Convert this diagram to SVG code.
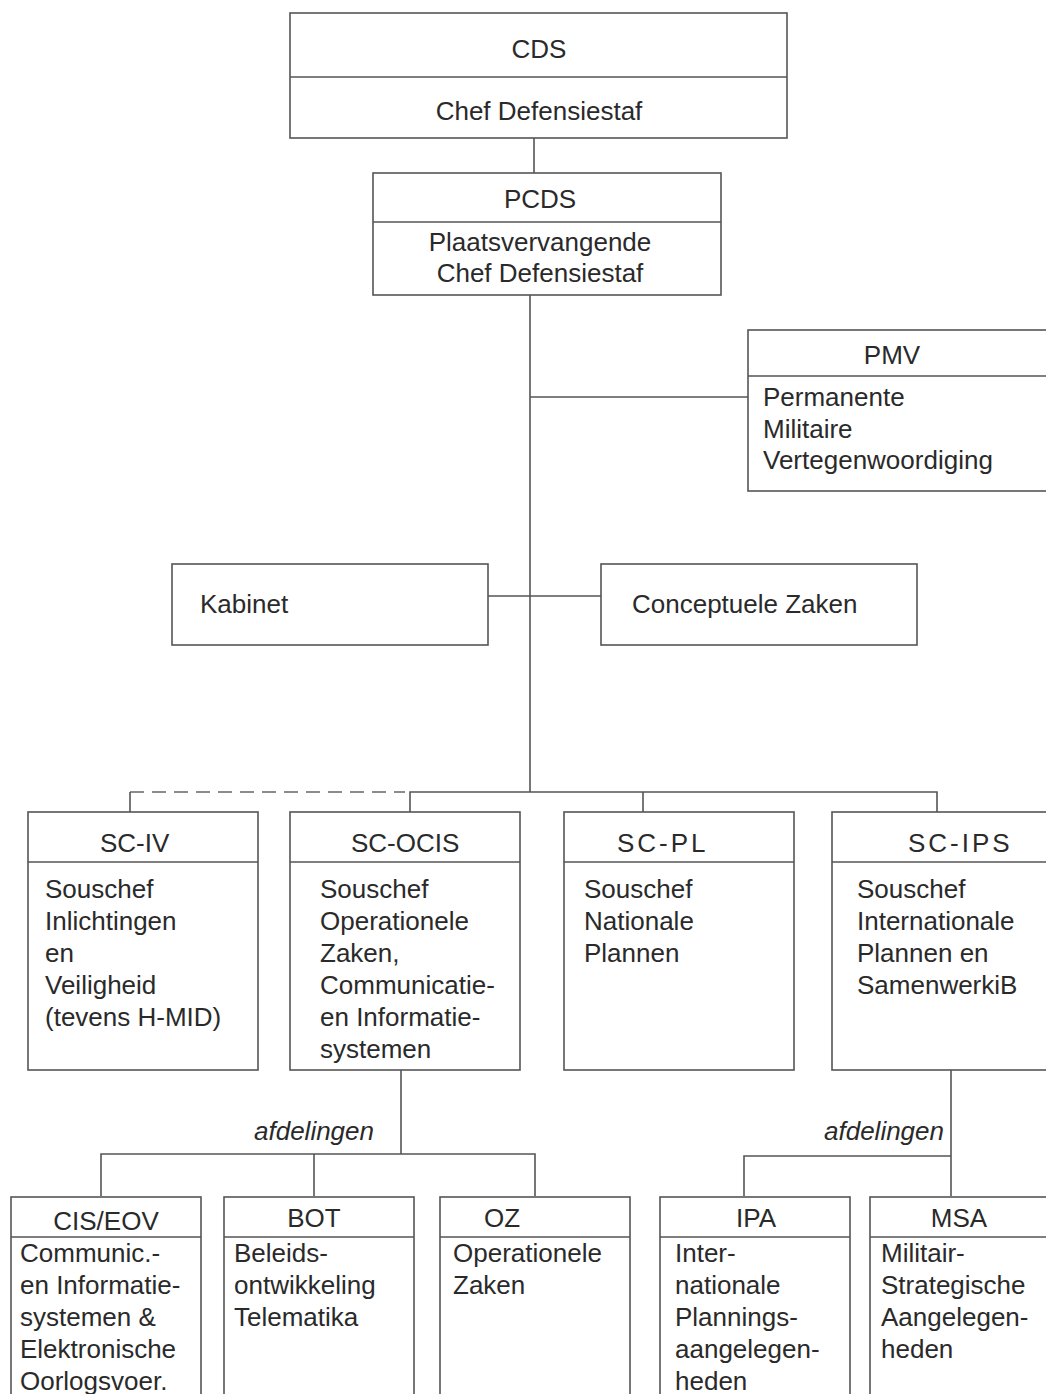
<svg xmlns="http://www.w3.org/2000/svg" width="1046" height="1394" viewBox="0 0 1046 1394">
<style>
.box{fill:#fff;stroke:#555;stroke-width:1.6}
.ln{stroke:#555;stroke-width:1.6;fill:none}
.dash{stroke:#666;stroke-width:1.6;fill:none;stroke-dasharray:14 8}
text{font-family:"Liberation Sans",Arial,sans-serif;font-size:26px;fill:#2a2a2a}
.c{text-anchor:middle}
.sp{letter-spacing:3px}
.it{font-style:italic;text-anchor:end}
</style>
<rect width="1046" height="1394" fill="#fff"/>
<g id="connectors">
<line class="ln" x1="534" y1="138" x2="534" y2="173"/>
<line class="ln" x1="530" y1="295" x2="530" y2="792"/>
<line class="ln" x1="530" y1="397" x2="748" y2="397"/>
<line class="ln" x1="488" y1="596" x2="601" y2="596"/>
<path class="dash" d="M130 792 H405"/>
<line class="ln" x1="130" y1="792" x2="130" y2="812"/>
<path class="ln" d="M410 812 V792 H937 V812"/>
<line class="ln" x1="643" y1="792" x2="643" y2="812"/>
<line class="ln" x1="401" y1="1070" x2="401" y2="1154"/>
<path class="ln" d="M101 1196 V1154 H535 V1196"/>
<line class="ln" x1="314" y1="1154" x2="314" y2="1196"/>
<line class="ln" x1="951" y1="1070" x2="951" y2="1196"/>
<path class="ln" d="M744 1196 V1156 H951"/>
<text class="it" x="374" y="1140">afdelingen</text>
<text class="it" x="944" y="1140">afdelingen</text>
</g>
<g id="cds">
<rect class="box" x="290" y="13" width="497" height="125"/>
<line class="ln" x1="290" y1="77" x2="787" y2="77"/>
<text class="c" x="539" y="58">CDS</text>
<text class="c" x="539" y="120">Chef Defensiestaf</text>
</g>
<g id="pcds">
<rect class="box" x="373" y="173" width="348" height="122"/>
<line class="ln" x1="373" y1="222" x2="721" y2="222"/>
<text class="c" x="540" y="208">PCDS</text>
<text class="c" x="540" y="251">Plaatsvervangende</text>
<text class="c" x="540" y="282">Chef Defensiestaf</text>
</g>
<g id="pmv">
<rect class="box" x="748" y="330" width="310" height="161"/>
<line class="ln" x1="748" y1="376" x2="1058" y2="376"/>
<text class="c" x="892" y="364">PMV</text>
<text x="763" y="406">Permanente</text>
<text x="763" y="438">Militaire</text>
<text x="763" y="469">Vertegenwoordiging</text>
</g>
<g id="kabinet">
<rect class="box" x="172" y="564" width="316" height="81"/>
<text x="200" y="613">Kabinet</text>
</g>
<g id="conceptuele">
<rect class="box" x="601" y="564" width="316" height="81"/>
<text x="632" y="613">Conceptuele Zaken</text>
</g>
<g id="sc-iv">
<rect class="box" x="28" y="812" width="230" height="258"/>
<line class="ln" x1="28" y1="862" x2="258" y2="862"/>
<text x="100" y="852">SC-IV</text>
<text x="45" y="898">Souschef</text>
<text x="45" y="930">Inlichtingen</text>
<text x="45" y="962">en</text>
<text x="45" y="994">Veiligheid</text>
<text x="45" y="1026">(tevens H-MID)</text>
</g>
<g id="sc-ocis">
<rect class="box" x="290" y="812" width="230" height="258"/>
<line class="ln" x1="290" y1="862" x2="520" y2="862"/>
<text x="351" y="852">SC-OCIS</text>
<text x="320" y="898">Souschef</text>
<text x="320" y="930">Operationele</text>
<text x="320" y="962">Zaken,</text>
<text x="320" y="994">Communicatie-</text>
<text x="320" y="1026">en Informatie-</text>
<text x="320" y="1058">systemen</text>
</g>
<g id="sc-pl">
<rect class="box" x="564" y="812" width="230" height="258"/>
<line class="ln" x1="564" y1="862" x2="794" y2="862"/>
<text class="sp" x="617" y="852">SC-PL</text>
<text x="584" y="898">Souschef</text>
<text x="584" y="930">Nationale</text>
<text x="584" y="962">Plannen</text>
</g>
<g id="sc-ips">
<rect class="box" x="832" y="812" width="230" height="258"/>
<line class="ln" x1="832" y1="862" x2="1062" y2="862"/>
<text class="sp" x="908" y="852">SC-IPS</text>
<text x="857" y="898">Souschef</text>
<text x="857" y="930">Internationale</text>
<text x="857" y="962">Plannen en</text>
<text x="857" y="994">SamenwerkiB</text>
</g>
<g id="cis-eov">
<rect class="box" x="11" y="1197" width="190" height="210"/>
<line class="ln" x1="11" y1="1237" x2="201" y2="1237"/>
<text class="c" x="106" y="1230">CIS/EOV</text>
<text x="20" y="1262">Communic.-</text>
<text x="20" y="1294">en Informatie-</text>
<text x="20" y="1326">systemen &amp;</text>
<text x="20" y="1358">Elektronische</text>
<text x="20" y="1390">Oorlogsvoer.</text>
</g>
<g id="bot">
<rect class="box" x="224" y="1197" width="190" height="210"/>
<line class="ln" x1="224" y1="1237" x2="414" y2="1237"/>
<text class="c" x="314" y="1227">BOT</text>
<text x="234" y="1262">Beleids-</text>
<text x="234" y="1294">ontwikkeling</text>
<text x="234" y="1326">Telematika</text>
</g>
<g id="oz">
<rect class="box" x="440" y="1197" width="190" height="210"/>
<line class="ln" x1="440" y1="1237" x2="630" y2="1237"/>
<text class="c" x="502" y="1227">OZ</text>
<text x="453" y="1262">Operationele</text>
<text x="453" y="1294">Zaken</text>
</g>
<g id="ipa">
<rect class="box" x="660" y="1197" width="190" height="210"/>
<line class="ln" x1="660" y1="1237" x2="850" y2="1237"/>
<text class="c" x="756" y="1227">IPA</text>
<text x="675" y="1262">Inter-</text>
<text x="675" y="1294">nationale</text>
<text x="675" y="1326">Plannings-</text>
<text x="675" y="1358">aangelegen-</text>
<text x="675" y="1390">heden</text>
</g>
<g id="msa">
<rect class="box" x="870" y="1197" width="190" height="210"/>
<line class="ln" x1="870" y1="1237" x2="1060" y2="1237"/>
<text class="c" x="959" y="1227">MSA</text>
<text x="881" y="1262">Militair-</text>
<text x="881" y="1294">Strategische</text>
<text x="881" y="1326">Aangelegen-</text>
<text x="881" y="1358">heden</text>
</g>
</svg>
